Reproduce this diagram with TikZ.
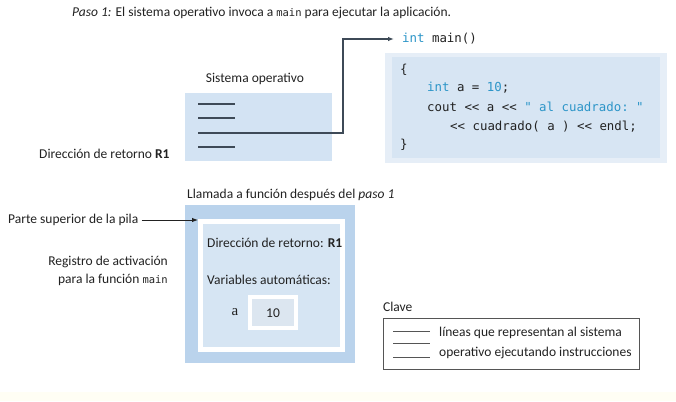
\documentclass[tikz,border=0pt]{standalone}
\usepackage{fontspec}
\setmainfont{Carlito}
\setmonofont{DejaVu Sans Mono}
\newfontfamily\serifa{Liberation Serif}
\usetikzlibrary{arrows.meta}
\definecolor{txt}{HTML}{222222}
\definecolor{osfill}{HTML}{D3E3F3}
\definecolor{codeout}{HTML}{E6EEF7}
\definecolor{codein}{HTML}{D7E5F3}
\definecolor{stackout}{HTML}{BAD3EC}
\definecolor{stackin}{HTML}{D6E5F3}
\definecolor{valfill}{HTML}{DCE6F0}
\definecolor{kw}{HTML}{2C95C8}
\definecolor{band}{HTML}{FFFEF4}
\definecolor{linec}{HTML}{3E4A57}
\definecolor{keyline}{HTML}{555555}
\begin{document}
\begin{tikzpicture}[x=1pt,y=-1pt,
  lbl/.style={inner sep=0pt, text=txt, font=\fontsize{13.5}{18}\selectfont},
  code/.style={inner sep=0pt, anchor=west, text=txt, font=\fontsize{12.4}{14}\ttfamily},
  osline/.style={draw=linec, line width=1.1pt},
  keyln/.style={draw=keyline, line width=0.8pt},
  conn/.style={draw=txt, line width=0.9pt, -{Latex[length=6pt,width=4.5pt]}},
  panel/.style={inner sep=0pt, outer sep=0pt, anchor=north west},
]
\useasboundingbox (0,0) rectangle (676,401);
\fill[white] (0,0) rectangle (676,401);
\fill[band] (0,392) rectangle (676,401);

% title
\node[lbl, anchor=west] (title) at (72,13) {\textit{Paso 1:} El sistema operativo invoca a {\ttfamily\fontsize{10.5}{11}\selectfont main} para ejecutar la aplicación.};

% operating system box
\node[panel, fill=osfill, minimum width=147, minimum height=68] (os) at (185,93) {};
\node[lbl] (oslbl) at (255,79) {Sistema operativo};
\draw[osline] (198,104) -- (235,104);
\draw[osline] (198,118) -- (235,118);
\draw[osline] (198,147) -- (235,147);
\coordinate (l3) at (198,133);
\coordinate (turn) at (343,39);
\node[lbl, anchor=west] (ret) at (39,154) {Dirección de retorno \textbf{R1}};

% code box
\node[panel, fill=codeout, minimum width=282, minimum height=110] (codebox) at (385,53) {};
\node[panel, fill=codein, minimum width=268, minimum height=101] (codeinner) at (392,57) {};
\node[code] (main) at (402,39) {\textcolor{kw}{int} main()};
\draw[conn, line width=1.1pt, draw=linec, shorten >=8pt] (l3) -| (turn) -- (main.west);
\node[code] (c1) at (400,70) {\{};
\node[code] (c2) at (427,88) {\textcolor{kw}{int} a = \textcolor{kw}{10};};
\node[code] (c3) at (427,107) {cout << a << \textcolor{kw}{" al cuadrado: "}};
\node[code] (c4) at (450,127) {<< cuadrado( a ) << endl;};
\node[code] (c5) at (400,145) {\}};

% stack
\node[lbl, anchor=west] (llamada) at (187,195) {Llamada a función después del \textit{paso 1}};
\node[panel, fill=stackout, minimum width=170, minimum height=158] (stack) at (185,205) {};
\node[panel, fill=white, minimum width=147, minimum height=133] (frame) at (198,219) {};
\node[panel, fill=stackin, minimum width=137, minimum height=123] (frameinner) at (203,224) {};
\node[lbl, anchor=west] (ret2) at (207,243) {Dirección de retorno: \textbf{R1}};
\node[lbl, anchor=west] (vars) at (207,280) {Variables automáticas:};
\node[panel, fill=white, minimum width=50, minimum height=35] (valbox) at (248,295) {};
\node[panel, fill=valfill, minimum width=42, minimum height=27] (valin) at (252,299) {};
\node[lbl] (val) at (273,313) {10};
\node[inner sep=0pt, text=txt, font=\serifa\fontsize{15}{16}\selectfont] (avar) at (235,312) {a};

\node[lbl, anchor=west] (top) at (8,220) {Parte superior de la pila};
\draw[conn, shorten <=3pt] (top.east) -- (top.east -| frame.west);
\node[lbl, anchor=east, align=right] (reg) at (168,271) {Registro de activación\\para la función {\ttfamily\fontsize{10.5}{11}\selectfont main}};

% key
\node[lbl, anchor=west] (clave) at (383,307) {Clave};
\node[panel, draw=keyline, line width=0.8pt, fill=white, minimum width=256, minimum height=51] (key) at (383,318) {};
\draw[keyln] (393,331) -- (430,331);
\draw[keyln] (393,343) -- (430,343);
\draw[keyln] (393,357) -- (430,357);
\node[lbl, anchor=west] (k1) at (439,333) {líneas que representan al sistema};
\node[lbl, anchor=west] (k2) at (439,353) {operativo ejecutando instrucciones};
\end{tikzpicture}
\end{document}
